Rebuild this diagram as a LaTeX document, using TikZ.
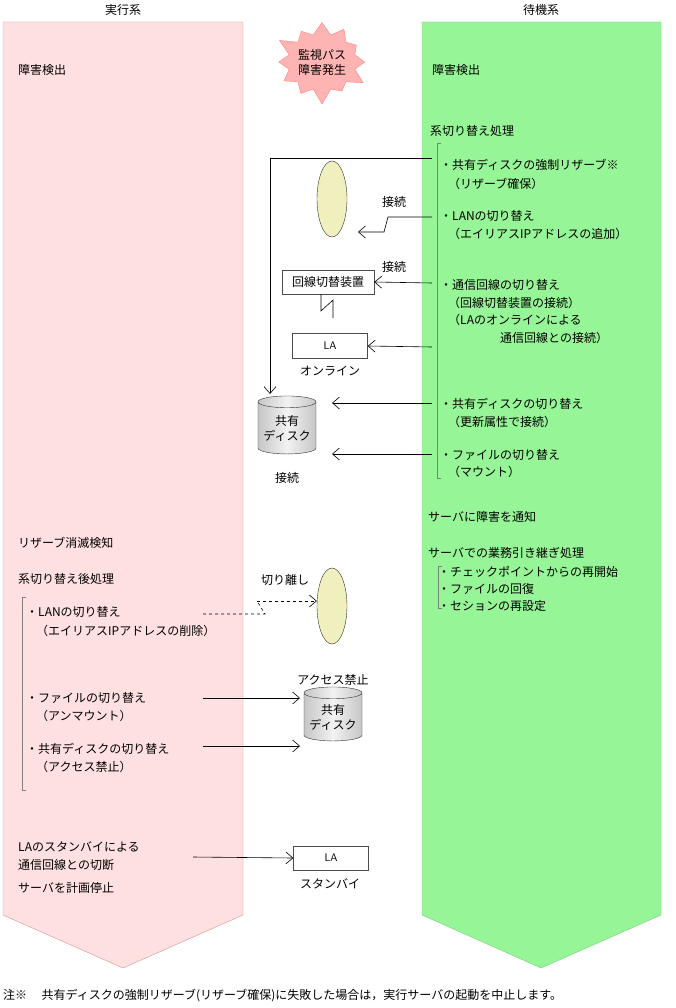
\documentclass[tikz,border=0pt]{standalone}
\usepackage{fontspec}
\setmainfont{Noto Sans CJK JP}
\usetikzlibrary{shapes.geometric,shapes.symbols,arrows.meta}
\definecolor{pinkbg}{RGB}{255,224,224}
\definecolor{greenbg}{RGB}{150,245,150}
\definecolor{ellfill}{RGB}{240,240,190}
\definecolor{starfill}{RGB}{255,180,180}
\begin{document}
\begin{tikzpicture}[x=1pt,y=-1pt,
  txt/.style={anchor=west,inner sep=0pt,font=\fontsize{12}{13}\selectfont},
  ctxt/.style={inner sep=0pt,font=\fontsize{12}{13}\selectfont},
  arr/.style={-{Straight Barb[length=7pt,width=12pt]},line width=0.6pt},
  bx/.style={draw=black!70,fill=white,inner sep=0pt},
  ell/.style={ellipse,draw=black!80,fill=ellfill,minimum width=30pt,minimum height=76pt,inner sep=0pt},
  cyl/.style={cylinder,shape border rotate=90,draw=black!80,aspect=0.25,minimum width=58pt,inner sep=0pt,left color=gray!45,right color=gray!45,middle color=gray!10,font=\fontsize{12}{15}\selectfont,align=center}]
\useasboundingbox (0,0) rectangle (675,1008);
% columns
\draw[gray!60!red!60,fill=pinkbg] (3,22) -- (243,22) -- (243,915) -- (123,968) -- (3,915) -- cycle;
\draw[gray!60!green!70,fill=greenbg] (422,22) -- (661,22) -- (661,915) -- (541,968) -- (422,915) -- cycle;
\node[ctxt] (h1) at (123,10) {実行系};
\node[ctxt] (h2) at (541,10) {待機系};
\node[starburst,starburst points=12,starburst point height=16pt,fill=starfill,draw=red!50,minimum width=100pt,minimum height=88pt,inner sep=0pt,align=center,font=\fontsize{12}{15}\selectfont] (star) at (322,62) {監視パス\\障害発生};
% right texts
\node[txt] (r1) at (432,70) {障害検出};
\node[txt] (r2) at (430,131) {系切り替え処理};
\draw[gray] (441,143) -- (437,143) -- (437,478) -- (441,478);
\node[txt] (a1) at (440,165) {・共有ディスクの強制リザーブ※};
\node[txt] (a1b) at (448,184) {（リザーブ確保）};
\node[txt] (a2) at (440,216) {・LANの切り替え};
\node[txt] (a2b) at (448,234) {（エイリアスIPアドレスの追加）};
\node[txt] (a3) at (440,285) {・通信回線の切り替え};
\node[txt] (a3b) at (448,303) {（回線切替装置の接続）};
\node[txt] (a3c) at (448,320) {（LAのオンラインによる};
\node[txt] (a3d) at (500,338) {通信回線との接続）};
\node[txt] (a4) at (440,404) {・共有ディスクの切り替え};
\node[txt] (a4b) at (448,422) {（更新属性で接続）};
\node[txt] (a5) at (440,455) {・ファイルの切り替え};
\node[txt] (a5b) at (448,472) {（マウント）};
\node[txt] (r3) at (428,517) {サーバに障害を通知};
\node[txt] (r4) at (428,553) {サーバでの業務引き継ぎ処理};
\draw[gray] (442,566) -- (438,566) -- (438,608) -- (442,608);
\node[txt] (b1) at (438,572) {・チェックポイントからの再開始};
\node[txt] (b2) at (438,589) {・ファイルの回復};
\node[txt] (b3) at (438,606) {・セションの再設定};
% left texts
\node[txt] (l1) at (18,70) {障害検出};
\node[txt] (l2) at (18,543) {リザーブ消滅検知};
\node[txt] (l3) at (18,579) {系切り替え後処理};
\draw[gray] (26,597) -- (22,597) -- (22,790) -- (26,790);
\node[txt] (c1) at (26,612) {・LANの切り替え};
\node[txt] (c1b) at (36,631) {（エイリアスIPアドレスの削除）};
\node[txt] (c2) at (26,698) {・ファイルの切り替え};
\node[txt] (c2b) at (36,716) {（アンマウント）};
\node[txt] (c3) at (26,749) {・共有ディスクの切り替え};
\node[txt] (c3b) at (36,767) {（アクセス禁止）};
\node[txt] (l4) at (18,847) {LAのスタンバイによる};
\node[txt] (l5) at (18,865) {通信回線との切断};
\node[txt] (l6) at (18,888) {サーバを計画停止};
% middle upper
\node[ell] (e1) at (332,199) {};
\node[bx,minimum width=92pt,minimum height=24pt,font=\fontsize{12}{13}\selectfont] (sw) at (328,282) {回線切替装置};
\node[bx,minimum width=75pt,minimum height=25pt,font=\sffamily\fontsize{11}{12}\selectfont] (la1) at (330,346) {LA};
\node[ctxt] (on) at (330,371) {オンライン};
\node[cyl,minimum height=58pt] (d1) at (287,428) {共有\\ディスク};
\node[ctxt] (dl1) at (287,478) {接続};
\coordinate (s0) at (432,158);
\draw[arr] (s0) -- (270,158) -- (270,394);
\coordinate (s1) at (432,217);
\draw[arr] (s1) -- (388,217) -- (384,232) -- (358,232);
\node[ctxt] (k1) at (394,202) {接続};
\coordinate (s2) at (432,283);
\draw[arr] (s2) -- (sw.east);
\node[ctxt] (k2) at (394,267) {接続};
\draw[line width=0.6pt] (321,294) -- (321,311) -- (333,300) -- (333,318);
\coordinate (s3) at (432,347);
\draw[arr] (s3) -- (la1.east);
\coordinate (s4) at (432,403);
\coordinate (t4) at (332,403);
\draw[arr] (s4) -- (t4);
\coordinate (s5) at (432,454);
\coordinate (t5) at (332,454);
\draw[arr] (s5) -- (t5);
% middle lower
\node[ell] (e2) at (332,606) {};
\node[ctxt] (kr) at (285,580) {切り離し};
\coordinate (u0) at (203,614);
\draw[dashed,line width=0.6pt] (u0) -- (265,614) -- (257,601);
\draw[arr,dashed] (257,601) -- (e2.west|-0,601);
\node[ctxt] (ak) at (333,680) {アクセス禁止};
\node[cyl,minimum height=54pt] (d2) at (333,717) {共有\\ディスク};
\coordinate (u1) at (203,698);
\draw[arr] (u1) -- (300,698);
\coordinate (u2) at (203,746);
\draw[arr] (u2) -- (300,746);
\node[bx,minimum width=75pt,minimum height=24pt,font=\sffamily\fontsize{11}{12}\selectfont] (la2) at (331,858) {LA};
\node[ctxt] (sb) at (330,884) {スタンバイ};
\coordinate (u3) at (193,857);
\draw[arr] (u3) -- (la2.west);
\node[txt] (fn) at (3,996) {注※\hspace{1.2em}共有ディスクの強制リザーブ(リザーブ確保)に失敗した場合は，実行サーバの起動を中止します。};
\end{tikzpicture}
\end{document}
